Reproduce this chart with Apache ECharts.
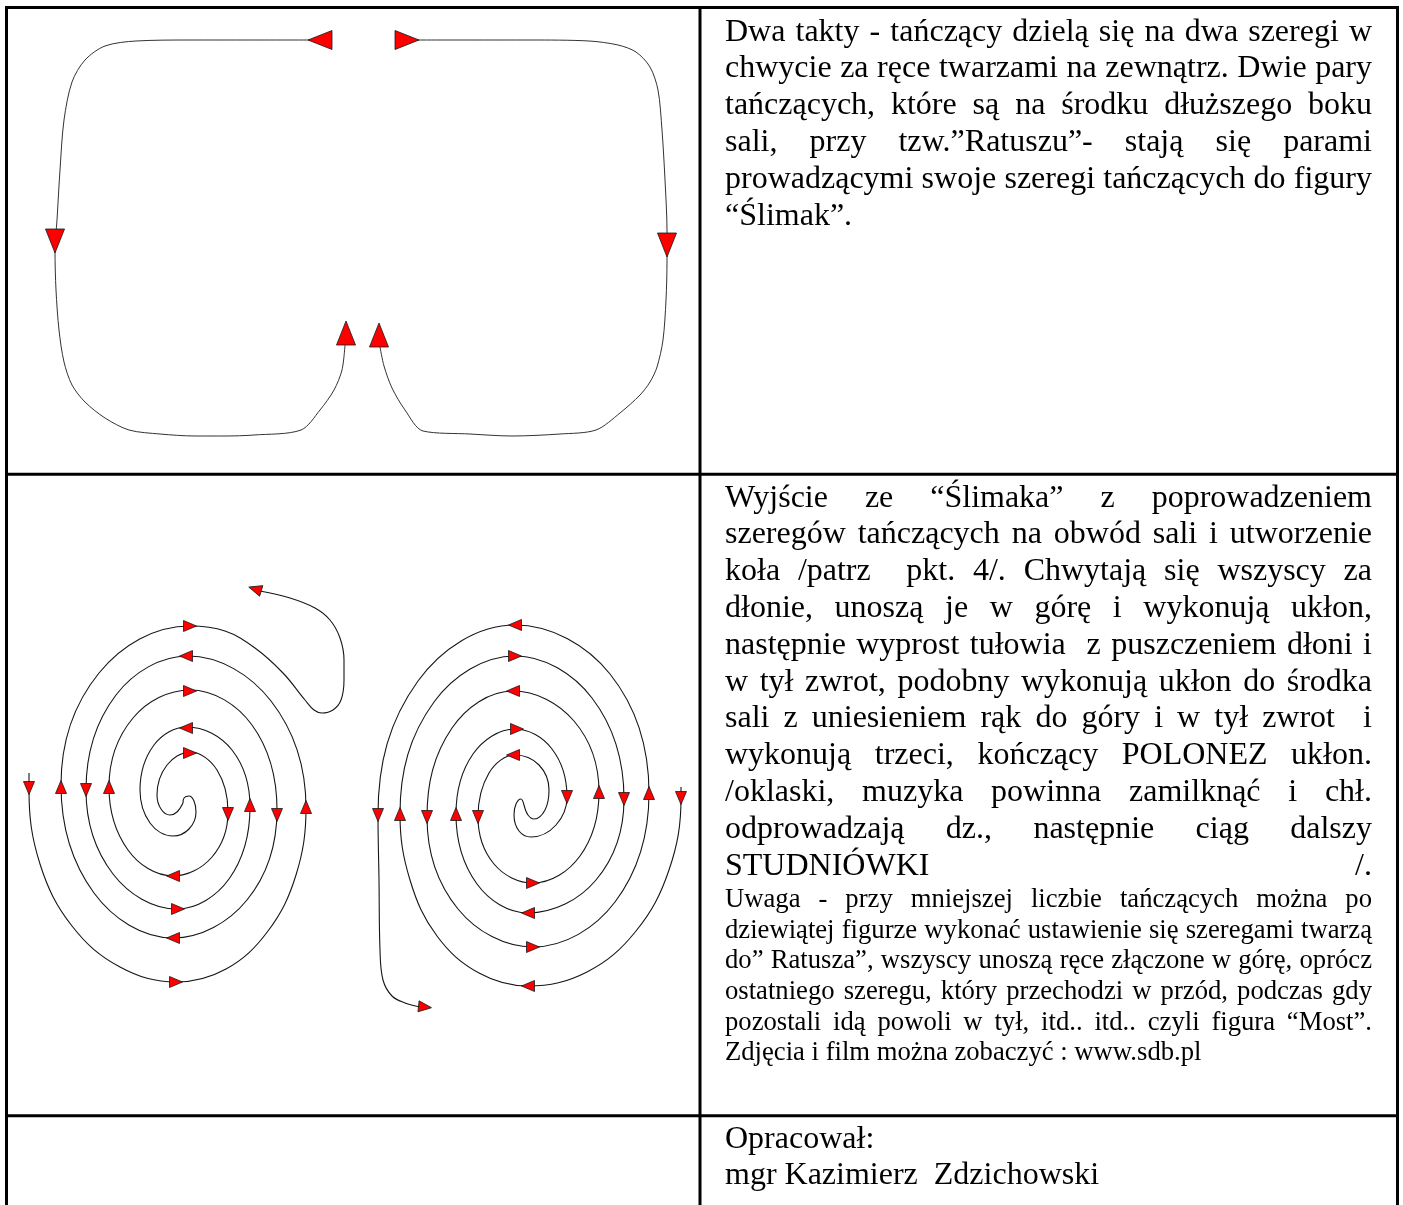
<!DOCTYPE html>
<html>
<head>
<meta charset="utf-8">
<script src="https://cdn.jsdelivr.net/npm/echarts@6/dist/echarts.min.js"></script>
<style>
html,body{margin:0;padding:0;background:#fff;}
#c{width:1403px;height:1205px;}
</style>
</head>
<body>
<div id="c"></div>
<script>
// ---- data: paths (x, y in picture units) ----
const topLeftPath = [[320,40],[250,40],[190,40],[136,41],[105,46],[85,60],[72,82],[64,120],[60,170],[57,220],[55,250],[56,290],[59,330],[64,362],[72,385],[85,402],[105,418],[129,430],[160,434],[195,436],[225,436],[254,435],[301,430],[320,410],[334,390],[342,370],[345,345]];
const topRightPath = [[407,40],[470,40],[530,40],[589,41],[618,45],[636,52],[650,67],[658,90],[662,130],[665,180],[667,230],[667,260],[666,300],[663,340],[657,367],[650,382],[640,395],[620,413],[596,430],[560,434],[512,436],[470,434],[423,431],[405,410],[392,388],[384,366],[380,347]];

const leftSpiralIn = [[29,773],[29,790],[40,864],[72,926],[120,967],[176,982],[226,969],[268,931],[296,875],[306,808],[271,701],[188,656],[116,695],[86,790],[113,874],[177,909],[229,879],[250,807],[232,750],[187,727],[154,745],[140,790],[150,823],[173,836],[189,829],[196,812],[194,801],[189,796],[184,798],[183,803]];
const leftSpiralOut = [[183,803],[177,812],[170,815],[161,809],[157,795],[167,765],[190,752],[217,770],[228,812],[212,857],[173,876],[128,850],[109,787],[133,718],[190,690],[252,725],[277,810],[247,900],[173,938],[94,893],[61,785],[99,673],[190,626],[225,631],[255,648],[283,673],[305,700],[314,710],[322,713],[333,710],[341,700],[344,680],[344,660],[340,638],[330,620],[315,608],[290,598],[260,591]];

const rightSpiralOut = [[524,805],[528,815],[534,819],[545,810],[549,790],[539,765],[515,755],[489,773],[478,817],[494,864],[533,883],[580,856],[599,792],[574,721],[513,691],[452,728],[427,817],[458,909],[533,947],[615,902],[649,793],[610,674],[515,625],[418,681],[378,815],[379,880],[380,950],[383,980],[392,996],[405,1003],[420,1007]];
const rightSpiralIn = [[681,787],[681,798],[669,870],[636,931],[587,972],[528,986],[479,973],[437,936],[410,880],[400,814],[434,702],[515,656],[592,698],[624,799],[596,880],[528,913],[477,884],[456,814],[473,754],[515,729],[552,749],[567,797],[556,825],[531,837],[519,831],[514,815],[516,804],[521,799],[524,805]];

// arrows: [x, y, direction in degrees (0 right, 90 up, 180 left, 270 down)]
const bigArrows = [[320,40,180],[407,40,0],[55,241,270],[667,245,270],[346,333,90],[379,335,90]];
const smallArrows = [
  [190,626,0],[186,656,180],[190,691,0],[186,728,180],[190,753,0],
  [29,788,270],[61,787,90],[86,790,270],[109,787,90],
  [228,814,270],[250,805,90],[277,815,270],[306,807,90],
  [173,876,180],[178,909,0],[173,938,180],[176,982,0],
  [255,589,163],
  [515,625,180],[515,656,0],[513,691,180],[517,729,0],[513,755,180],
  [378,815,270],[400,814,90],[427,817,270],[456,814,90],[478,817,270],
  [567,797,270],[599,792,90],[624,799,270],[649,793,90],[681,798,270],
  [533,883,0],[528,913,180],[533,947,0],[528,986,180],
  [425,1007,-6]
];

// text lines: [text, justified]
const block1 = [
  ["Dwa takty - tańczący dzielą się na dwa szeregi w", true],
  ["chwycie za ręce twarzami na zewnątrz. Dwie pary", true],
  ["tańczących, które są na środku dłuższego boku", true],
  ["sali, przy tzw.”Ratuszu”- stają się parami", true],
  ["prowadzącymi swoje szeregi tańczących do figury", true],
  ["“Ślimak”.", false]
];
const block2 = [
  ["Wyjście ze “Ślimaka” z poprowadzeniem", true],
  ["szeregów tańczących na obwód sali i utworzenie", true],
  ["koła /patrz  pkt. 4/. Chwytają się wszyscy za", true],
  ["dłonie, unoszą je w górę i wykonują ukłon,", true],
  ["następnie wyprost tułowia  z puszczeniem dłoni i", true],
  ["w tył zwrot, podobny wykonują ukłon do środka", true],
  ["sali z uniesieniem rąk do góry i w tył zwrot  i", true],
  ["wykonują trzeci, kończący POLONEZ ukłon.", true],
  ["/oklaski, muzyka powinna zamilknąć i chł.", true],
  ["odprowadzają dz., następnie ciąg dalszy", true],
  ["STUDNIÓWKI /.", true]
];
const block2small = [
  ["Uwaga - przy mniejszej liczbie tańczących można po", true],
  ["dziewiątej figurze wykonać ustawienie się szeregami twarzą", true],
  ["do” Ratusza”, wszyscy unoszą ręce złączone w górę, oprócz", true],
  ["ostatniego szeregu, który przechodzi w przód, podczas gdy", true],
  ["pozostali idą powoli w tył, itd.. itd.. czyli figura “Most”.", true],
  ["Zdjęcia i film można zobaczyć : www.sdb.pl", false]
];
const block3 = [
  ["Opracował:", false],
  ["mgr Kazimierz  Zdzichowski", false]
];

// ---- rendering ----
const FAMILY = "'Liberation Serif', 'Times New Roman', serif";
const measureCtx = document.createElement('canvas').getContext('2d');

function textLines(lines, x0, x1, baseline0, pitch, size) {
  const font = size + 'px ' + FAMILY;
  measureCtx.font = font;
  const off = size * 0.165;
  const els = [];
  lines.forEach((ln, i) => {
    const y = baseline0 + i * pitch - off;
    const str = ln[0];
    if (!ln[1]) {
      els.push({type: 'text', x: x0, y: y, silent: true,
        style: {text: str, font: font, fill: '#000', align: 'left', verticalAlign: 'middle'}});
      return;
    }
    const words = str.split(' ');
    const widths = words.map(w => w ? measureCtx.measureText(w).width : 0);
    const total = widths.reduce((a, b) => a + b, 0);
    const gap = (x1 - x0 - total) / Math.max(1, words.length - 1);
    let x = x0;
    words.forEach((w, k) => {
      if (w) els.push({type: 'text', x: x, y: y, silent: true,
        style: {text: w, font: font, fill: '#000', align: 'left', verticalAlign: 'middle'}});
      x += widths[k] + gap;
    });
  });
  return els;
}

function border(x1, y1, x2, y2) {
  return {type: 'line', silent: true, z: 10,
    shape: {x1: x1, y1: y1, x2: x2, y2: y2},
    style: {stroke: '#000', lineWidth: 3}};
}

const graphics = [].concat(
  [border(6.5, 6, 6.5, 1210), border(5, 7.5, 1399, 7.5), border(1397.5, 6, 1397.5, 1210),
   border(700, 6, 700, 1210), border(5, 474.3, 1399, 474.3), border(5, 1115.7, 1399, 1115.7)],
  textLines(block1, 725, 1372, 37.5, 36.8, 32),
  textLines(block2, 725, 1372, 503.5, 36.8, 32),
  textLines(block2small, 725, 1372, 904.2, 30.7, 26.67),
  textLines(block3, 725, 1372, 1144.5, 36.8, 32)
);

function pathSeries(data, sm, color, width) {
  return {type: 'line', data: data, showSymbol: false, symbol: 'none', smooth: sm,
    silent: true, z: 2, lineStyle: {color: color, width: width}};
}
function arrowSeries(arr, size) {
  return {type: 'scatter', symbol: 'triangle', symbolSize: size, silent: true, z: 5,
    itemStyle: {color: '#ff0000', borderColor: '#1a1a1a', borderWidth: 0.8, opacity: 1},
    data: arr.map(a => ({value: [a[0], a[1]], symbolRotate: a[2] - 90}))};
}

const chart = echarts.init(document.getElementById('c'), null, {renderer: 'canvas'});
chart.setOption({
  animation: false,
  backgroundColor: '#fff',
  grid: {left: 0, right: 0, top: 0, bottom: 0},
  xAxis: {type: 'value', min: 0, max: 1403, show: false},
  yAxis: {type: 'value', min: 0, max: 1205, inverse: true, show: false},
  series: [
    pathSeries(topLeftPath, 0.3, '#333', 1), pathSeries(topRightPath, 0.3, '#333', 1),
    pathSeries(leftSpiralIn, 0.38, '#161616', 1.1), pathSeries(leftSpiralOut, 0.38, '#161616', 1.1),
    pathSeries(rightSpiralIn, 0.38, '#161616', 1.1), pathSeries(rightSpiralOut, 0.38, '#161616', 1.1),
    arrowSeries(bigArrows, [19, 24]),
    arrowSeries(smallArrows, [11, 13])
  ],
  graphic: graphics
});
</script>
</body>
</html>
